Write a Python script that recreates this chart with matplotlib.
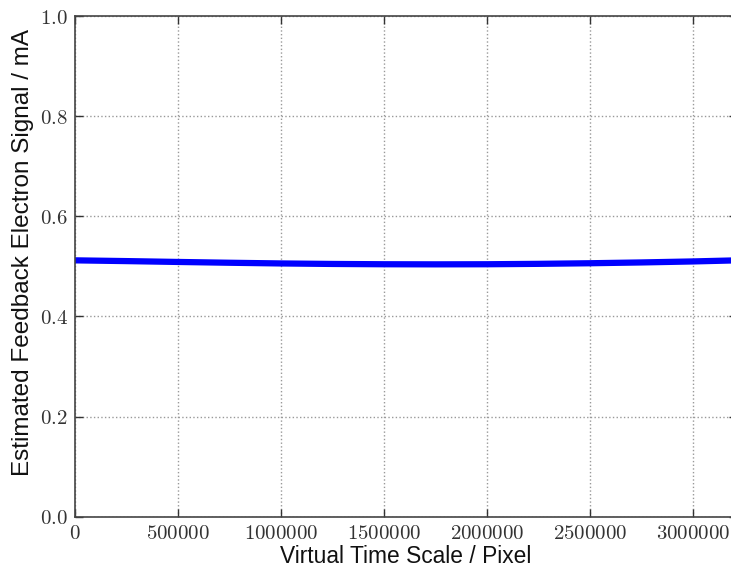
import matplotlib
matplotlib.use("Agg")
import matplotlib.pyplot as plt
from matplotlib.ticker import FuncFormatter

x_vals = [0, 250000, 500000, 750000, 1000000, 1250000, 1500000, 1750000,
          2000000, 2250000, 2500000, 2750000, 3000000, 3216000]
y_vals = [0.512, 0.5105, 0.5088, 0.5072, 0.5058, 0.5048, 0.5042, 0.5040,
          0.5042, 0.5050, 0.5062, 0.5078, 0.5098, 0.5120]
x_ticks = [0, 500000, 1000000, 1500000, 2000000, 2500000, 3000000]
y_ticks = [0.0, 0.2, 0.4, 0.6, 0.8, 1.0]

plt.rcParams['mathtext.fontset'] = 'cm'
plt.rcParams['font.family'] = ['Liberation Sans', 'DejaVu Sans']

fig = plt.figure(figsize=(7.31, 5.71), dpi=100)
ax = fig.add_axes([74.7/731, (571-516.7)/571, 662.6/731, 500.7/571])
ax.plot(x_vals, y_vals, color='#0000ff', lw=4.5, solid_capstyle='butt')
ax.set_xlim(0, 3216000)
ax.set_ylim(0, 1.0)
ax.set_xticks(x_ticks)
ax.set_yticks(y_ticks)
ax.xaxis.set_major_formatter(FuncFormatter(lambda v, p: r'$%d$' % v))
ax.yaxis.set_major_formatter(FuncFormatter(lambda v, p: r'$%.1f$' % v))
ax.tick_params(direction='in', top=True, right=True, length=6, width=1,
               labelsize=15, colors='#333333', pad=5)
ax.grid(True, linestyle=':', color='#999999', lw=1)
for s in ax.spines.values():
    s.set_color('#444444')
    s.set_linewidth(1.2)
ax.set_xlabel('Virtual Time Scale / Pixel', fontsize=16.4, color='#111111', labelpad=2)
ax.set_ylabel('Estimated Feedback Electron Signal / mA', fontsize=17.5, color='#111111', labelpad=5)
ax.yaxis.set_label_coords(-0.062, 0.527)
fig.savefig('out.png', dpi=100)
